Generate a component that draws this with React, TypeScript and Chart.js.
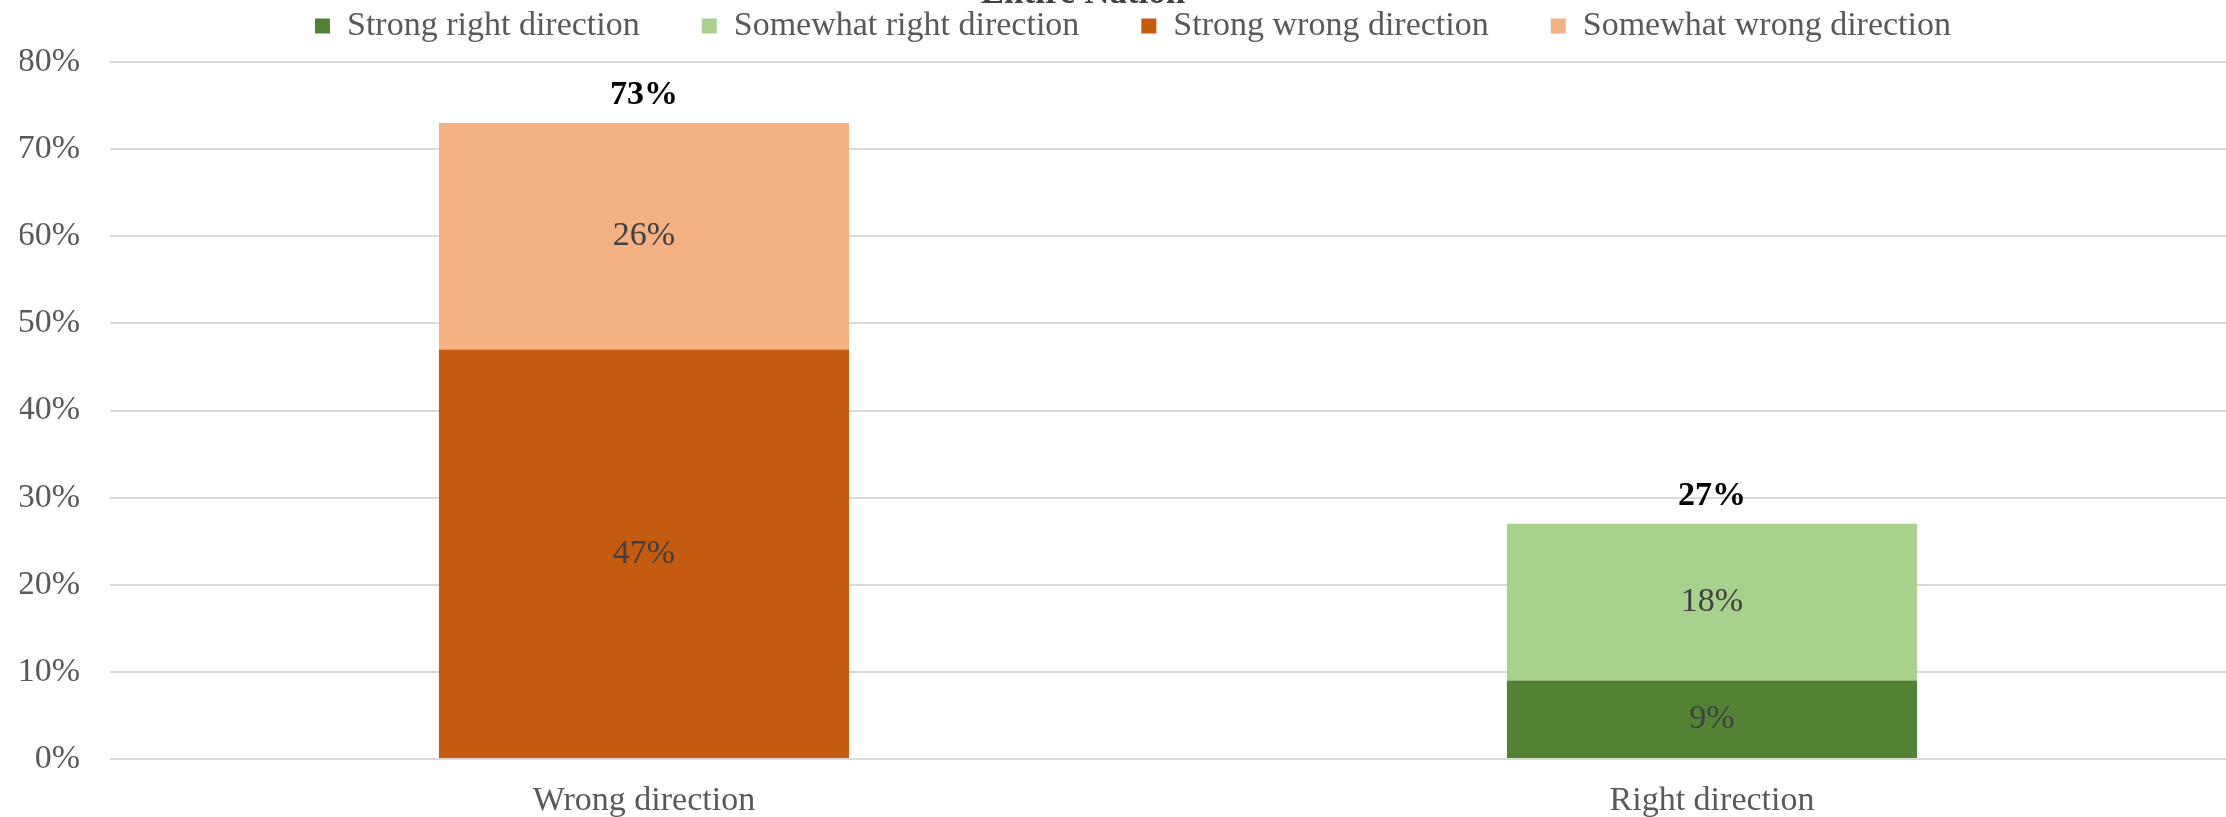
import React, { useEffect, useRef } from "react";
import { Chart, registerables } from "chart.js";

Chart.register(...registerables);

const TITLE = "Entire Nation";
const categories = ["Wrong direction", "Right direction"];
const seriesNames = [
  "Strong right direction",
  "Somewhat right direction",
  "Strong wrong direction",
  "Somewhat wrong direction",
];
const strongRight = [null, 9];
const somewhatRight = [null, 18];
const strongWrong = [47, null];
const somewhatWrong = [26, null];
const seriesColors = ["#548235", "#A9D18E", "#C55A11", "#F4B183"];
const yTicks = [0, 10, 20, 30, 40, 50, 60, 70, 80];

const FONT = "'Liberation Serif', 'Times New Roman', serif";

const labelsPlugin = {
  id: "valueLabels",
  afterDatasetsDraw(chart: any) {
    const ctx = chart.ctx;
    ctx.save();
    ctx.textAlign = "center";
    ctx.textBaseline = "middle";
    ctx.font = `34px ${FONT}`;
    ctx.fillStyle = "#404040";
    chart.data.datasets.forEach((ds: any, i: number) => {
      const meta = chart.getDatasetMeta(i);
      meta.data.forEach((bar: any, j: number) => {
        const v = ds.data[j];
        if (v == null) return;
        const p = bar.getProps(["x", "y", "base"], true);
        ctx.fillText(v + "%", p.x, (p.y + p.base) / 2);
      });
    });
    // totals
    ctx.font = `bold 34px ${FONT}`;
    ctx.fillStyle = "#000000";
    ctx.textBaseline = "alphabetic";
    const xScale = chart.scales.x;
    const yScale = chart.scales.y;
    categories.forEach((_c, j) => {
      let total = 0;
      chart.data.datasets.forEach((ds: any) => {
        total += ds.data[j] || 0;
      });
      const x = xScale.getPixelForValue(j);
      const y = yScale.getPixelForValue(total);
      ctx.fillText(total + "%", x, y - 19);
    });
    ctx.restore();
  },
};

const titlePlugin = {
  id: "clippedTitle",
  afterDraw(chart: any) {
    const ctx = chart.ctx;
    ctx.save();
    ctx.font = `bold 35px ${FONT}`;
    ctx.fillStyle = "#404040";
    ctx.textAlign = "center";
    ctx.textBaseline = "alphabetic";
    ctx.fillText(TITLE, 1083, 56);
    ctx.restore();
  },
};

export default function App() {
  const ref = useRef<HTMLCanvasElement>(null);
  useEffect(() => {
    if (!ref.current) return;
    const seriesData = [strongRight, somewhatRight, strongWrong, somewhatWrong];
    const chart = new Chart(ref.current, {
      type: "bar",
      data: {
        labels: categories,
        datasets: seriesNames.map((name, i) => ({
          label: name,
          data: seriesData[i] as any,
          backgroundColor: seriesColors[i],
          borderWidth: 0,
          categoryPercentage: 1,
          barPercentage: 0.384,
        })),
      },
      options: {
        responsive: false,
        animation: false,
        devicePixelRatio: 1,
        layout: { padding: { left: 20, right: 0, top: 0, bottom: 0 } },
        plugins: {
          title: { display: false },
          tooltip: { enabled: false },
          legend: {
            display: true,
            position: "top",
            labels: {
              color: "#595959",
              font: { family: FONT, size: 34 },
              boxWidth: 15,
              boxHeight: 15,
              padding: 62,
            },
          },
        },
        scales: {
          x: {
            type: "category",
            stacked: true,
            position: "bottom",
            grid: { display: false },
            border: { display: false },
            ticks: {
              color: "#595959",
              font: { family: FONT, size: 34 },
              padding: 14,
            },
            afterFit(s: any) {
              s.height = 60;
            },
          },
          xTop: {
            type: "category",
            position: "top",
            display: true,
            grid: { display: false },
            border: { display: false },
            ticks: { display: false },
            afterFit(s: any) {
              s.height = 9;
            },
          },
          y: {
            stacked: true,
            min: 0,
            max: 80,
            afterBuildTicks(s: any) {
              s.ticks = yTicks.map((v) => ({ value: v }));
            },
            grid: { color: "#D9D9D9", lineWidth: 2, drawTicks: false },
            border: { display: false },
            ticks: {
              color: "#595959",
              font: { family: FONT, size: 34 },
              padding: 30,
              callback: (v: any) => v + "%",
            },
            afterFit(s: any) {
              s.width = 90;
            },
          },
        },
      } as any,
      plugins: [labelsPlugin, titlePlugin],
    });
    return () => chart.destroy();
  }, []);
  return (
    <div
      style={{
        position: "fixed",
        left: 0,
        top: 0,
        width: 2226,
        height: 817,
        overflow: "hidden",
        background: "#ffffff",
      }}
    >
      <canvas
        ref={ref}
        width={2246}
        height={872}
        style={{ position: "absolute", left: 0, top: -53, display: "block" }}
      />
    </div>
  );
}
